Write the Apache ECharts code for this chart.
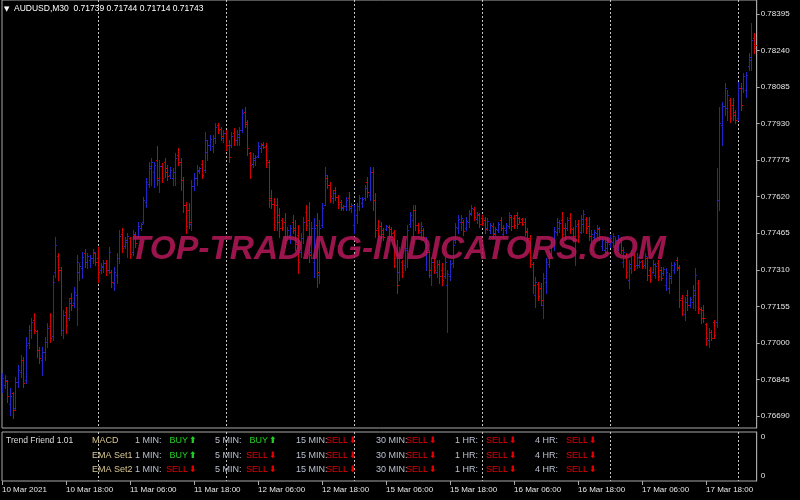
<!DOCTYPE html>
<html>
<head>
<meta charset="utf-8">
<script src="https://cdn.jsdelivr.net/npm/echarts@6/dist/echarts.min.js"></script>
<style>
html,body{margin:0;padding:0;background:#000;}
#c{width:800px;height:500px;}
</style>
</head>
<body>
<div id="c"></div>
<script>
// ---- DATA: AUDUSD M30 bars [open, high, low, close] ----
const dayNames = ['10 Mar', '11 Mar', '12 Mar', '15 Mar', '16 Mar', '17 Mar', '18 Mar'];
const dayFirstHour = [6, 0, 0, 0, 0, 0, 0];
const bars10 = [
[0.76808,0.76872,0.76792,0.76851],[0.76821,0.76864,0.76808,0.76842],[0.76838,0.76842,0.76750,0.76775],[0.76741,0.76808,0.76694,0.76775],
[0.76787,0.76792,0.76681,0.76715],[0.76723,0.76856,0.76715,0.76834],[0.76834,0.76906,0.76813,0.76885],[0.76877,0.76948,0.76856,0.76927],
[0.76927,0.76940,0.76813,0.76829],[0.76842,0.77025,0.76829,0.76991],[0.76999,0.77076,0.76978,0.77054],[0.77054,0.77105,0.77020,0.77089],
[0.77097,0.77126,0.77041,0.77054],[0.77050,0.77054,0.76940,0.76970],[0.76970,0.76983,0.76914,0.76935],[0.76927,0.76983,0.76864,0.76962],
[0.76962,0.77025,0.76927,0.77004],[0.77004,0.77084,0.76983,0.77063],[0.77072,0.77126,0.77004,0.77020],[0.77029,0.77288,0.77012,0.77259],
[0.77301,0.77449,0.77280,0.77415],[0.77369,0.77381,0.77267,0.77309],[0.77309,0.77322,0.77033,0.77054],[0.77054,0.77139,0.77020,0.77118],
[0.77131,0.77152,0.77041,0.77076],[0.77105,0.77190,0.77097,0.77169],[0.77190,0.77211,0.77139,0.77160],[0.77169,0.77237,0.77152,0.77216],
[0.77203,0.77373,0.77076,0.77343],[0.77301,0.77338,0.77267,0.77326],[0.77317,0.77386,0.77275,0.77365],[0.77381,0.77398,0.77322,0.77343],
[0.77343,0.77381,0.77317,0.77369],[0.77351,0.77373,0.77322,0.77360],[0.77360,0.77398,0.77338,0.77386],[0.77381,0.77386,0.77330,0.77343]
];
const bars11 = [
[0.77360,0.77407,0.77259,0.77301],[0.77309,0.77338,0.77296,0.77326],[0.77322,0.77351,0.77301,0.77338],[0.77338,0.77351,0.77288,0.77309],
[0.77309,0.77407,0.77296,0.77386],[0.77301,0.77309,0.77237,0.77259],[0.77254,0.77322,0.77224,0.77301],[0.77288,0.77381,0.77254,0.77360],
[0.77360,0.77479,0.77338,0.77453],[0.77462,0.77487,0.77386,0.77402],[0.77411,0.77449,0.77402,0.77436],[0.77428,0.77466,0.77365,0.77453],
[0.77444,0.77449,0.77360,0.77377],[0.77386,0.77479,0.77373,0.77462],[0.77457,0.77471,0.77407,0.77424],[0.77453,0.77513,0.77449,0.77496],
[0.77487,0.77508,0.77479,0.77504],[0.77513,0.77619,0.77508,0.77606],[0.77598,0.77699,0.77577,0.77683],[0.77674,0.77767,0.77661,0.77750],
[0.77741,0.77784,0.77669,0.77767],[0.77725,0.77767,0.77661,0.77754],[0.77775,0.77835,0.77669,0.77699],[0.77691,0.77775,0.77640,0.77750],
[0.77750,0.77762,0.77683,0.77699],[0.77767,0.77784,0.77704,0.77725],[0.77741,0.77754,0.77691,0.77708],[0.77712,0.77746,0.77699,0.77733],
[0.77699,0.77741,0.77669,0.77725],[0.77725,0.77805,0.77669,0.77784],[0.77797,0.77826,0.77754,0.77767],[0.77767,0.77784,0.77648,0.77691],
[0.77691,0.77704,0.77555,0.77585],[0.77585,0.77598,0.77466,0.77496],[0.77563,0.77594,0.77487,0.77513],[0.77504,0.77691,0.77479,0.77665],
[0.77665,0.77720,0.77648,0.77699],[0.77699,0.77754,0.77669,0.77733],[0.77729,0.77746,0.77720,0.77741],[0.77758,0.77775,0.77699,0.77712],
[0.77733,0.77895,0.77725,0.77860],[0.77809,0.77860,0.77775,0.77839],[0.77839,0.77882,0.77818,0.77865],[0.77835,0.77882,0.77809,0.77869],
[0.77869,0.77932,0.77847,0.77916],[0.77924,0.77932,0.77890,0.77903],[0.77907,0.77916,0.77860,0.77878],[0.77869,0.77903,0.77852,0.77890]
];
const bars12 = [
[0.77890,0.77903,0.77818,0.77839],[0.77839,0.77860,0.77767,0.77789],[0.77839,0.77895,0.77831,0.77878],[0.77890,0.77911,0.77839,0.77860],
[0.77860,0.77903,0.77839,0.77886],[0.77873,0.77916,0.77839,0.77903],[0.77903,0.77992,0.77895,0.77975],[0.77979,0.78001,0.77916,0.77937],
[0.77928,0.77945,0.77797,0.77826],[0.77805,0.77809,0.77699,0.77754],[0.77758,0.77805,0.77746,0.77784],[0.77775,0.77797,0.77754,0.77789],
[0.77793,0.77852,0.77789,0.77835],[0.77826,0.77847,0.77809,0.77839],[0.77843,0.77852,0.77826,0.77831],[0.77835,0.77847,0.77746,0.77775],
[0.77767,0.77775,0.77577,0.77606],[0.77614,0.77648,0.77572,0.77589],[0.77589,0.77614,0.77479,0.77500],[0.77585,0.77614,0.77479,0.77513],
[0.77542,0.77572,0.77449,0.77487],[0.77521,0.77529,0.77479,0.77492],[0.77513,0.77550,0.77407,0.77436],[0.77449,0.77492,0.77436,0.77479],
[0.77457,0.77500,0.77424,0.77487],[0.77513,0.77542,0.77466,0.77479],[0.77487,0.77521,0.77394,0.77419],[0.77457,0.77500,0.77296,0.77343],
[0.77386,0.77466,0.77365,0.77444],[0.77444,0.77534,0.77424,0.77513],[0.77555,0.77585,0.77479,0.77500],[0.77521,0.77598,0.77343,0.77373],
[0.77386,0.77513,0.77360,0.77487],[0.77343,0.77529,0.77280,0.77487],[0.77500,0.77550,0.77237,0.77301],[0.77288,0.77521,0.77254,0.77487],
[0.77500,0.77594,0.77492,0.77572],[0.77585,0.77746,0.77585,0.77712],[0.77699,0.77712,0.77656,0.77669],[0.77669,0.77683,0.77598,0.77623],
[0.77614,0.77648,0.77594,0.77635],[0.77648,0.77661,0.77606,0.77619],[0.77619,0.77627,0.77572,0.77589],[0.77598,0.77606,0.77563,0.77577],
[0.77572,0.77585,0.77563,0.77581],[0.77581,0.77619,0.77563,0.77606],[0.77614,0.77640,0.77563,0.77581],[0.77572,0.77594,0.77555,0.77585]
];
const bars15 = [
[0.77500,0.77585,0.77466,0.77563],[0.77542,0.77594,0.77508,0.77581],[0.77581,0.77627,0.77563,0.77614],[0.77594,0.77619,0.77577,0.77610],
[0.77614,0.77669,0.77606,0.77656],[0.77683,0.77704,0.77619,0.77640],[0.77627,0.77746,0.77606,0.77725],[0.77725,0.77746,0.77563,0.77606],
[0.77606,0.77635,0.77449,0.77479],[0.77487,0.77521,0.77436,0.77457],[0.77496,0.77513,0.77444,0.77462],[0.77479,0.77487,0.77436,0.77449],
[0.77483,0.77500,0.77479,0.77496],[0.77492,0.77500,0.77436,0.77453],[0.77483,0.77492,0.77457,0.77466],[0.77471,0.77479,0.77322,0.77360],
[0.77373,0.77436,0.77211,0.77245],[0.77301,0.77407,0.77267,0.77373],[0.77343,0.77351,0.77280,0.77301],[0.77330,0.77424,0.77309,0.77402],
[0.77394,0.77500,0.77322,0.77479],[0.77504,0.77555,0.77492,0.77542],[0.77521,0.77585,0.77424,0.77563],[0.77563,0.77585,0.77479,0.77500],
[0.77500,0.77508,0.77466,0.77479],[0.77471,0.77513,0.77436,0.77496],[0.77479,0.77487,0.77436,0.77449],[0.77373,0.77449,0.77309,0.77415],
[0.77386,0.77394,0.77280,0.77309],[0.77288,0.77365,0.77245,0.77343],[0.77343,0.77360,0.77296,0.77309],[0.77301,0.77351,0.77280,0.77334],
[0.77334,0.77351,0.77254,0.77284],[0.77309,0.77338,0.77245,0.77267],[0.77284,0.77365,0.77275,0.77343],[0.77245,0.77309,0.77046,0.77292],
[0.77284,0.77351,0.77267,0.77334],[0.77338,0.77436,0.77322,0.77415],[0.77436,0.77508,0.77424,0.77492],[0.77487,0.77542,0.77466,0.77525],
[0.77513,0.77542,0.77479,0.77529],[0.77513,0.77521,0.77457,0.77475],[0.77487,0.77534,0.77479,0.77517],[0.77513,0.77563,0.77492,0.77546],
[0.77550,0.77585,0.77542,0.77572],[0.77568,0.77577,0.77521,0.77534],[0.77525,0.77555,0.77508,0.77546],[0.77542,0.77550,0.77492,0.77504]
];
const bars16 = [
[0.77529,0.77542,0.77500,0.77508],[0.77521,0.77534,0.77466,0.77483],[0.77487,0.77529,0.77479,0.77517],[0.77479,0.77508,0.77466,0.77500],
[0.77496,0.77508,0.77449,0.77462],[0.77466,0.77492,0.77457,0.77483],[0.77479,0.77513,0.77471,0.77504],[0.77521,0.77534,0.77479,0.77487],
[0.77462,0.77500,0.77449,0.77487],[0.77479,0.77508,0.77466,0.77500],[0.77496,0.77555,0.77487,0.77542],[0.77534,0.77542,0.77479,0.77496],
[0.77529,0.77542,0.77487,0.77500],[0.77542,0.77555,0.77487,0.77504],[0.77529,0.77534,0.77508,0.77513],[0.77525,0.77529,0.77500,0.77504],
[0.77513,0.77529,0.77457,0.77471],[0.77475,0.77487,0.77436,0.77444],[0.77444,0.77457,0.77322,0.77351],[0.77334,0.77343,0.77211,0.77245],
[0.77203,0.77280,0.77152,0.77259],[0.77250,0.77259,0.77182,0.77199],[0.77233,0.77254,0.77160,0.77182],[0.77160,0.77296,0.77105,0.77275],
[0.77259,0.77360,0.77211,0.77343],[0.77334,0.77394,0.77322,0.77377],[0.77377,0.77436,0.77365,0.77419],[0.77411,0.77492,0.77394,0.77475],
[0.77471,0.77529,0.77457,0.77513],[0.77487,0.77521,0.77471,0.77508],[0.77521,0.77555,0.77436,0.77462],[0.77487,0.77508,0.77436,0.77453],
[0.77487,0.77534,0.77479,0.77521],[0.77529,0.77550,0.77466,0.77487],[0.77483,0.77492,0.77436,0.77453],[0.77436,0.77521,0.77330,0.77496],
[0.77504,0.77521,0.77428,0.77453],[0.77471,0.77542,0.77466,0.77525],[0.77504,0.77563,0.77471,0.77546],[0.77525,0.77534,0.77466,0.77487],
[0.77496,0.77534,0.77436,0.77453],[0.77419,0.77479,0.77394,0.77462],[0.77449,0.77479,0.77436,0.77471],[0.77466,0.77500,0.77449,0.77487],
[0.77483,0.77492,0.77436,0.77453],[0.77411,0.77449,0.77394,0.77436],[0.77394,0.77444,0.77381,0.77428],[0.77402,0.77449,0.77381,0.77436]
];
const bars17 = [
[0.77419,0.77457,0.77407,0.77444],[0.77428,0.77466,0.77407,0.77453],[0.77411,0.77449,0.77394,0.77436],[0.77411,0.77457,0.77394,0.77440],
[0.77436,0.77449,0.77381,0.77394],[0.77343,0.77407,0.77322,0.77386],[0.77369,0.77381,0.77275,0.77301],[0.77267,0.77351,0.77233,0.77334],
[0.77317,0.77394,0.77296,0.77377],[0.77373,0.77381,0.77309,0.77326],[0.77330,0.77381,0.77317,0.77365],[0.77330,0.77351,0.77322,0.77343],
[0.77347,0.77351,0.77317,0.77326],[0.77330,0.77381,0.77317,0.77369],[0.77360,0.77365,0.77267,0.77288],[0.77309,0.77322,0.77259,0.77271],
[0.77301,0.77351,0.77296,0.77334],[0.77288,0.77338,0.77275,0.77326],[0.77338,0.77351,0.77267,0.77284],[0.77309,0.77322,0.77267,0.77275],
[0.77296,0.77322,0.77288,0.77313],[0.77245,0.77317,0.77224,0.77301],[0.77233,0.77296,0.77211,0.77284],[0.77275,0.77343,0.77254,0.77330],
[0.77309,0.77343,0.77296,0.77334],[0.77351,0.77365,0.77309,0.77322],[0.77317,0.77330,0.77152,0.77182],[0.77190,0.77203,0.77118,0.77139],
[0.77122,0.77194,0.77097,0.77173],[0.77203,0.77224,0.77139,0.77160],[0.77160,0.77194,0.77152,0.77186],[0.77173,0.77245,0.77148,0.77224],
[0.77203,0.77317,0.77139,0.77288],[0.77254,0.77267,0.77126,0.77148],[0.77143,0.77152,0.77084,0.77105],[0.77139,0.77160,0.77089,0.77105],
[0.77080,0.77084,0.76991,0.77020],[0.77012,0.77063,0.76983,0.77046],[0.77046,0.77054,0.77012,0.77020],[0.77089,0.77097,0.77020,0.77033],
[0.77089,0.77741,0.77067,0.77606],[0.77606,0.78001,0.77563,0.77932],[0.77924,0.78022,0.77839,0.78005],[0.78005,0.78102,0.77966,0.78081],
[0.77996,0.78072,0.77945,0.78051],[0.78030,0.78038,0.77937,0.77953],[0.78009,0.78038,0.77945,0.77966],[0.77979,0.77988,0.77932,0.77945]
];
const bars18 = [
[0.77953,0.78106,0.77945,0.78081],[0.78081,0.78102,0.77988,0.78009],[0.78081,0.78144,0.78063,0.78132],[0.78072,0.78149,0.78042,0.78136],
[0.78174,0.78229,0.78157,0.78212],[0.78200,0.78356,0.78157,0.78284],[0.78293,0.78314,0.78229,0.78250],[0.78263,0.78284,0.78187,0.78208]
];
const dayBars = [bars10, bars11, bars12, bars15, bars16, bars17, bars18];
const priceTicks = [0.76690, 0.76845, 0.77000, 0.77155, 0.77310, 0.77465, 0.77620, 0.77775, 0.77930, 0.78085, 0.78240, 0.78395];
const firstLabel = '10 Mar 2021';
const headerText = 'AUDUSD,M30  0.71739 0.71744 0.71714 0.71743';
const panelTitle = 'Trend Friend 1.01';
const rowNames = ['MACD', 'EMA Set1', 'EMA Set2'];
const timeframes = ['1 MIN:', '5 MIN:', '15 MIN:', '30 MIN:', '1 HR:', '4 HR:'];
const signals = [
  ['BUY', 'BUY', 'SELL', 'SELL', 'SELL', 'SELL'],
  ['BUY', 'SELL', 'SELL', 'SELL', 'SELL', 'SELL'],
  ['SELL', 'SELL', 'SELL', 'SELL', 'SELL', 'SELL']
];
const watermark = 'TOP-TRADING-INDICATORS.COM';

// ---- build categories & series data ----
const pad = n => (n < 10 ? '0' : '') + n;
const categories = [];
const seriesData = [];
const dayStarts = [];
dayBars.forEach((bars, d) => {
  dayStarts.push(categories.length);
  bars.forEach((b, k) => {
    const mins = dayFirstHour[d] * 60 + k * 30;
    categories.push(dayNames[d] + ' ' + pad(Math.floor(mins / 60)) + ':' + pad(mins % 60));
    seriesData.push([categories.length - 1, b[0], b[1], b[2], b[3]]);
  });
});
const separatorIdx = dayStarts.slice(1);

const UP = '#2424c8';
const DOWN = '#d40000';
const FRAME = '#a8a8a8';
const TXT = '#e6e6e6';
const FONT = '"Liberation Sans", Arial, sans-serif';

function renderBar(params, api) {
  const i = api.value(0);
  const o = api.value(1), h = api.value(2), l = api.value(3), c = api.value(4);
  const ph = api.coord([i, h]), pl = api.coord([i, l]);
  const po = api.coord([i, o]), pc = api.coord([i, c]);
  const x = Math.round(ph[0]);
  const color = c >= o ? UP : DOWN;
  const yo = Math.round(po[1]) + 0.5, yc = Math.round(pc[1]) + 0.5;
  return {
    type: 'group',
    children: [
      {type: 'line', shape: {x1: x + 0.5, y1: Math.round(ph[1]), x2: x + 0.5, y2: Math.round(pl[1]) + 1}, style: {stroke: color, lineWidth: 1}},
      {type: 'line', shape: {x1: x - 1, y1: yo, x2: x, y2: yo}, style: {stroke: color, lineWidth: 1}},
      {type: 'line', shape: {x1: x + 1, y1: yc, x2: x + 2, y2: yc}, style: {stroke: color, lineWidth: 1}}
    ]
  };
}

const sepLine = {
  show: true,
  interval: (idx) => separatorIdx.indexOf(idx) >= 0,
  lineStyle: {color: '#c4c4c4', type: [2, 2], width: 1}
};

// ---- indicator panel texts ----
const graphics = [];
graphics.push({type: 'text', x: 4, y: 9, style: {text: '▼', font: '7px "DejaVu Sans"', fill: '#ffffff', verticalAlign: 'middle'}, z: 50});
graphics.push({type: 'text', x: 14, y: 9, style: {text: headerText, font: '8.5px ' + FONT, fill: '#ffffff', verticalAlign: 'middle'}, z: 50});
graphics.push({type: 'text', x: 130, y: 250, scaleX: 0.985, style: {text: watermark, font: 'italic bold 34px ' + FONT, fill: 'rgba(180,24,88,0.86)', verticalAlign: 'middle'}, z: 60});
graphics.push({type: 'text', x: 6, y: 441, style: {text: panelTitle, font: '8.5px ' + FONT, fill: '#dedede', verticalAlign: 'middle'}, z: 50});
const rowY = [441, 456, 470];
const tfX = [135, 215, 296, 376, 455, 535];
const sigX = [188, 268, 348, 428, 508, 588];
rowNames.forEach((name, r) => {
  graphics.push({type: 'text', x: 92, y: rowY[r], style: {text: name, font: '9px ' + FONT, fill: '#d6c68e', verticalAlign: 'middle'}, z: 50});
  timeframes.forEach((tf, t) => {
    const s = signals[r][t];
    const col = s === 'BUY' ? '#20d020' : '#e40000';
    graphics.push({type: 'text', x: tfX[t], y: rowY[r], style: {text: tf, font: '9px ' + FONT, fill: '#b9c1cf', verticalAlign: 'middle'}, z: 50});
    graphics.push({type: 'text', x: sigX[t], y: rowY[r], style: {text: s, font: '9px ' + FONT, fill: col, align: 'right', verticalAlign: 'middle'}, z: 50});
    graphics.push({type: 'text', x: sigX[t] + 1, y: rowY[r], style: {text: s === 'BUY' ? '⬆' : '⬇', font: 'bold 9px "DejaVu Sans"', fill: col, verticalAlign: 'middle'}, z: 50});
  });
});

const chart = echarts.init(document.getElementById('c'), null, {renderer: 'canvas'});
chart.setOption({
  animation: false,
  backgroundColor: '#000000',
  grid: [
    {left: 2, right: 43.3, top: 0, height: 428, show: true, borderColor: FRAME, borderWidth: 1, backgroundColor: 'transparent', containLabel: false, outerBoundsMode: 'none'},
    {left: 2, right: 43.3, top: 432, height: 49, show: true, borderColor: FRAME, borderWidth: 1, backgroundColor: 'transparent', containLabel: false, outerBoundsMode: 'none'}
  ],
  xAxis: [
    {gridIndex: 0, type: 'category', data: categories, boundaryGap: false,
     axisLine: {show: false}, axisTick: {show: false}, axisLabel: {show: false}, splitLine: sepLine},
    {gridIndex: 1, type: 'category', data: categories, boundaryGap: false,
     axisLine: {show: false},
     axisTick: {show: true, interval: 23, length: 4, lineStyle: {color: FRAME}},
     axisLabel: {show: true, interval: 23, align: 'left', margin: 5, color: TXT, fontSize: 8, fontFamily: FONT,
                 formatter: (v, idx) => idx === 0 ? firstLabel : v},
     splitLine: sepLine}
  ],
  yAxis: [
    {gridIndex: 0, type: 'value', position: 'right', min: 0.76639, max: 0.78454, scale: true,
     axisLine: {show: true, lineStyle: {color: FRAME}},
     axisTick: {show: true, length: 3, customValues: priceTicks, lineStyle: {color: FRAME}},
     axisLabel: {show: true, customValues: priceTicks, margin: 4, color: TXT, fontSize: 8, fontFamily: FONT,
                 formatter: v => Number(v).toFixed(5)},
     splitLine: {show: false}},
    {gridIndex: 1, type: 'value', position: 'right', min: 0, max: 1,
     axisLine: {show: true, lineStyle: {color: FRAME}},
     axisTick: {show: false},
     axisLabel: {show: true, customValues: [0.1, 0.9], margin: 4, color: TXT, fontSize: 8, fontFamily: FONT, formatter: () => '0'},
     splitLine: {show: false}}
  ],
  series: [{
    type: 'custom', xAxisIndex: 0, yAxisIndex: 0, clip: true,
    renderItem: renderBar,
    encode: {x: 0, y: [1, 2, 3, 4]},
    data: seriesData
  }],
  graphic: graphics
});
</script>
</body>
</html>
